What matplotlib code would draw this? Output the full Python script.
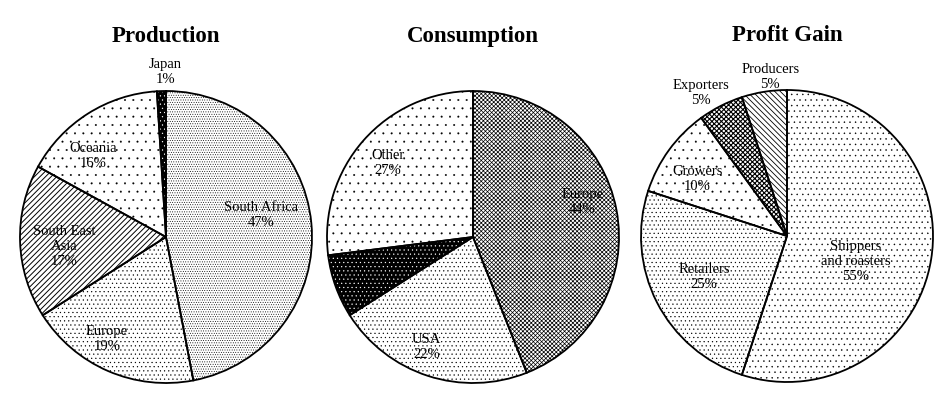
import matplotlib
matplotlib.use('Agg')
import matplotlib.pyplot as plt
import numpy as np

plt.rcParams['font.family'] = ['Liberation Serif', 'DejaVu Serif']
plt.rcParams['hatch.linewidth'] = 0.35

# 데이터
prod_labels = ['South Africa', 'Europe', 'South East\nAsia', 'Oceania', 'Japan']
prod_values = [47, 19, 17, 16, 1]

cons_labels = ['Europe', 'USA', '', 'Other']
cons_values = [44, 22, 7, 27]

profit_labels = ['Shippers\nand roasters', 'Retailers', 'Growers', 'Exporters', 'Producers']
profit_values = [55, 25, 10, 5, 5]

# 스타일 (facecolor, hatch, hatch color, hatch linewidth)
prod_styles = [('white', '.......', 'black', 0.35), ('white', '....', 'black', 0.35),
               ('white', '//////', 'black', 0.7), ('white', '..', 'black', 0.2),
               ('black', '....', 'white', 0.35)]
cons_styles = [('white', 'xxxxxxxx', 'black', 0.5), ('white', '....', 'black', 0.35),
               ('black', '....', 'white', 0.35), ('white', '..', 'black', 0.2)]
profit_styles = [('white', '...', 'black', 0.3), ('white', '....', 'black', 0.35),
                 ('white', '..', 'black', 0.2), ('white', 'xxxxxxx', 'black', 0.8),
                 ('white', '\\' * 6, 'black', 0.6)]

# 라벨 위치 (반지름 비율, 각도 보정)
prod_pos = [(0.67, 8), (0.80, -7), (0.70, 3), (0.75, 9), (1.14, -1.5)]
cons_pos = [(0.79, 7.5), (0.81, -5), (0.78, 0), (0.78, 0)]
profit_pos = [(0.50, -11), (0.63, -1.5), (0.73, 3), (1.15, 4), (1.10, -3)]

W, H = 945, 410
R = 146
fig = plt.figure(figsize=(9.45, 4.1), dpi=100)


def draw_pie(cx, cy, title, labels, values, styles, pos):
    size = 2.6 * R
    ax = fig.add_axes([(cx - size / 2) / W, (H - cy - size / 2) / H, size / W, size / H])
    wedges, _ = ax.pie(values, startangle=90, counterclock=False,
                       colors=[s[0] for s in styles],
                       wedgeprops=dict(linewidth=0))
    for w, s in zip(wedges, styles):
        w.set_hatch(s[1])
        w.set_edgecolor(s[2])
        if hasattr(w, 'set_hatch_linewidth'):
            w.set_hatch_linewidth(s[3])
    # 외곽선
    ax.pie(values, startangle=90, counterclock=False, colors=['none'] * len(values),
           wedgeprops=dict(linewidth=1.3, edgecolor='black'))
    for w, lab, val, (d, da) in zip(wedges, labels, values, pos):
        if not lab:
            continue
        ang = np.deg2rad((w.theta1 + w.theta2) / 2 + da)
        ax.text(d * np.cos(ang), d * np.sin(ang), f'{lab}\n{val}%',
                ha='center', va='center', fontsize=10.5, linespacing=1.2)
    ax.text(0, 1.38, title, ha='center', va='center', fontsize=16.5, fontweight='bold')
    ax.set_xlim(-1.3, 1.3)
    ax.set_ylim(-1.3, 1.3)
    ax.set_aspect('equal')
    ax.axis('off')


draw_pie(166, 238, 'Production', prod_labels, prod_values, prod_styles, prod_pos)
draw_pie(473, 238, 'Consumption', cons_labels, cons_values, cons_styles, cons_pos)
draw_pie(787, 237, 'Profit Gain', profit_labels, profit_values, profit_styles, profit_pos)

fig.savefig('out.png', dpi=100, facecolor='white')
